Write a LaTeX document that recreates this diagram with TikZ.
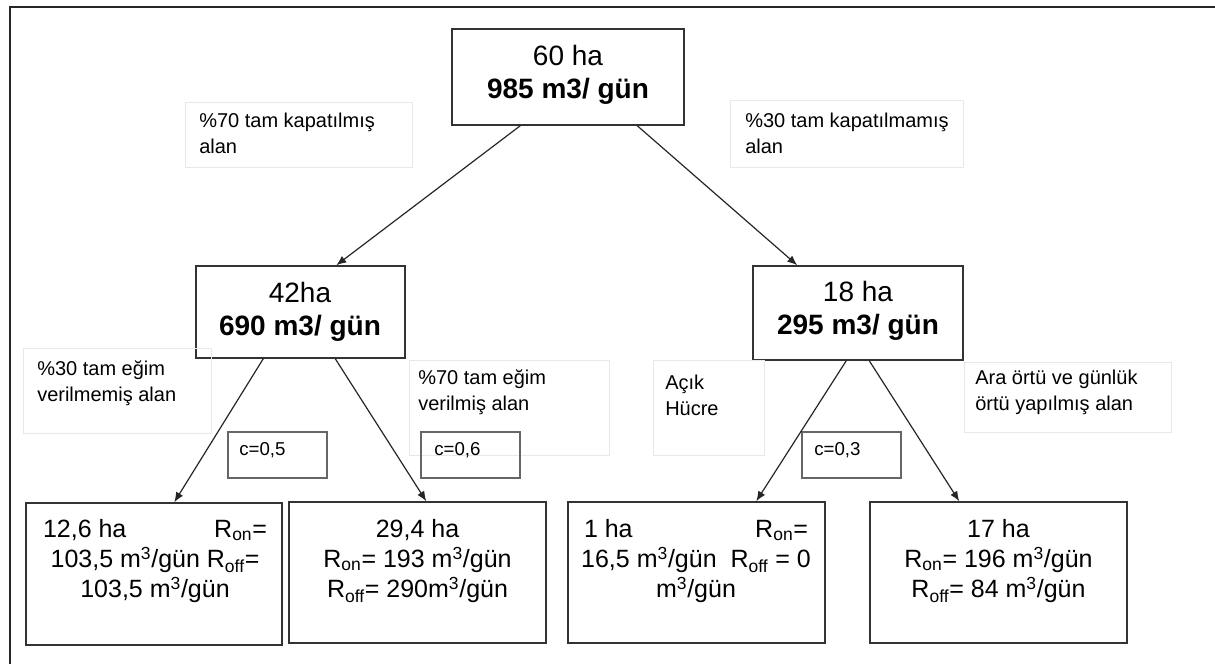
\documentclass[tikz,border=0pt]{standalone}
\usepackage{fontspec}
\setmainfont{Liberation Sans}
\usetikzlibrary{arrows.meta,calc}
\begin{document}
\begin{tikzpicture}[x=0.75pt,y=-0.75pt,
  sz/.style 2 args={minimum width={#1*0.75pt},minimum height={#2*0.75pt}},
  box/.style={draw=black!80,line width=1.1pt,inner sep=0pt,rectangle},
  tagbox/.style={draw=black!9,line width=0.5pt,inner sep=0pt,rectangle},
  cbox/.style={draw=black!60,line width=0.8pt,inner sep=0pt,rectangle},
  bigtext/.style={align=center,inner sep=0pt,font=\fontsize{21}{24.75}\selectfont},
  rtext/.style={align=center,inner sep=0pt,font=\fontsize{18.75}{22.5}\selectfont},
  tagtext/.style={align=left,anchor=west,inner sep=0pt,font=\fontsize{15}{19.5}\selectfont},
  ctext/.style={anchor=west,inner sep=0pt,font=\fontsize{14}{16}\selectfont},
  flow/.style={draw=black!85,line width=0.9pt,-{Latex[length=7.5pt,width=6pt]}}
]
\useasboundingbox (0,0) rectangle (1215,664);

% page frame (top and left edges)
\coordinate (fa) at (10,664);
\coordinate (fb) at (10,7);
\coordinate (fc) at (1215,7);
\draw[black!85,line width=1.6pt] (fa) -- (fb) -- (fc);

% boxes
\node[box,sz={232}{96}] (T) at (568,77) {};
\node[box,sz={209}{92}] (L) at (300.5,312) {};
\node[box,sz={210}{94}] (R) at (858,313) {};
\node[box,sz={256}{142}] (B1) at (154,574) {};
\node[box,sz={257}{141}] (B2) at (417.5,572.5) {};
\node[box,sz={257}{141}] (B3) at (696.5,572.5) {};
\node[box,sz={257}{141}] (B4) at (998.5,572.5) {};

% box texts
\node[bigtext] (Tt) at (568,74.5) {60 ha\\\textbf{985 m3/ gün}};
\node[bigtext] (Lt) at (300,312) {42ha\\\textbf{690 m3/ gün}};
\node[bigtext] (Rt) at (858,311) {18 ha\\\textbf{295 m3/ gün}};

\node[rtext] (B1t) at (155,561)
  {\makebox[168pt]{12,6 ha\hfill R\textsubscript{on}=}\\
   103,5 m\textsuperscript{3}/gün R\textsubscript{off}=\\
   103,5 m\textsuperscript{3}/gün};
\node[rtext] (B2t) at (417.5,561)
  {29,4 ha\\R\textsubscript{on}= 193 m\textsuperscript{3}/gün\\R\textsubscript{off}= 290m\textsuperscript{3}/gün};
\node[rtext] (B3t) at (696,561)
  {\makebox[168pt]{1 ha\hfill R\textsubscript{on}=}\\
   16,5 m\textsuperscript{3}/gün\ \ R\textsubscript{off} = 0\\
   m\textsuperscript{3}/gün};
\node[rtext] (B4t) at (998.5,561)
  {17 ha\\R\textsubscript{on}= 196 m\textsuperscript{3}/gün\\R\textsubscript{off}= 84 m\textsuperscript{3}/gün};

% faint label frames and their texts
\node[tagbox,sz={227}{65}] (G1) at (298.5,134.5) {};
\node[tagtext] (G1t) at (199,133) {\%70 tam kapatılmış\\alan};
\node[tagbox,sz={233}{67}] (G2) at (846.5,133.5) {};
\node[tagtext] (G2t) at (745,133) {\%30 tam kapatılmamış\\alan};
\node[tagbox,sz={188}{85}] (G3) at (117,390.5) {};
\node[tagtext] (G3t) at (37,383) {\%30 tam eğim\\verilmemiş alan};
\node[tagbox,sz={200}{95}] (G4) at (509,407.5) {};
\node[tagtext] (G4t) at (418,392) {\%70 tam eğim\\verilmiş alan};
\node[tagbox,sz={111}{95}] (G5) at (708.5,407.5) {};
\node[tagtext] (G5t) at (665,395) {Açık\\Hücre};
\node[tagbox,sz={207}{70}] (G6) at (1067.5,397) {};
\node[tagtext] (G6t) at (975,392) {Ara örtü ve günlük\\örtü yapılmış alan};

% runoff coefficient boxes
\node[cbox,sz={99}{46}] (C1) at (277.5,455) {};
\node[ctext] (C1t) at (239,450) {c=0,5};
\node[cbox,sz={99}{46}] (C2) at (470.5,455) {};
\node[ctext] (C2t) at (434,450) {c=0,6};
\node[cbox,sz={99}{46}] (C3) at (851.5,455) {};
\node[ctext] (C3t) at (814,450) {c=0,3};

% connectors
\draw[flow] ($(T.south west)+(69,0)$) -- ($(L.north west)+(141,0)$);
\draw[flow] ($(T.south west)+(186,0)$) -- ($(R.north west)+(45,0)$);
\draw[flow] ($(L.south west)+(68,0)$) -- ($(B1.north west)+(149,0)$);
\draw[flow] ($(L.south west)+(140,0)$) -- ($(B2.north west)+(138,0)$);
\draw[flow] ($(R.south west)+(94,0)$) -- ($(B3.north west)+(189,0)$);
\draw[flow] ($(R.south west)+(117,0)$) -- ($(B4.north west)+(90,0)$);
\end{tikzpicture}
\end{document}
